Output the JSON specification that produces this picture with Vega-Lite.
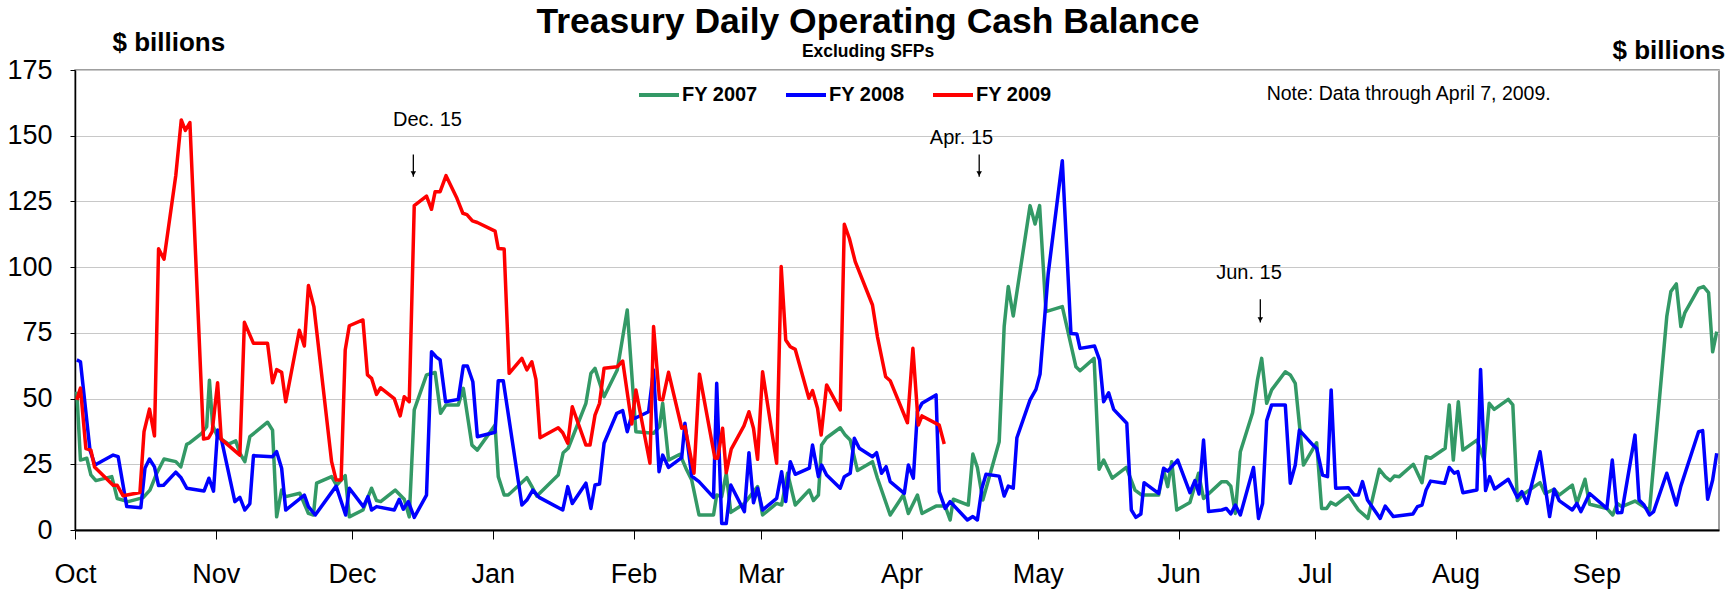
{
"$schema":"https://vega.github.io/schema/vega-lite/v6.json",
"width":1644,"height":460,
"autosize":{"type":"none"},
"padding":{"left":75,"top":70,"right":10,"bottom":61},
"background":"white",
"config":{"view":{"stroke":"#808080","strokeWidth":1.5},"font":"Liberation Sans",
 "axis":{"labelFont":"Liberation Sans","titleFont":"Liberation Sans","labelColor":"#000","domainColor":"#000","tickColor":"#000","titleColor":"#000"}},
"title":{"text":"Treasury Daily Operating Cash Balance","subtitle":"Excluding SFPs","anchor":"middle","frame":"group","dx":-29,"fontSize":35.5,"font":"Liberation Sans","fontWeight":"bold","color":"#000","subtitleFont":"Liberation Sans","subtitleFontSize":17.5,"subtitleFontWeight":"bold","subtitleColor":"#000","subtitlePadding":2,"offset":-31},
"datasets":{
"series":[
{"fy":"FY 2007","day":0.4,"v":52.6},{"fy":"FY 2007","day":1.2,"v":26.6},{"fy":"FY 2007","day":2.6,"v":27.3},{"fy":"FY 2007","day":3.5,"v":21},{"fy":"FY 2007","day":4.6,"v":18.8},{"fy":"FY 2007","day":8.1,"v":20.3},{"fy":"FY 2007","day":9.3,"v":12},{"fy":"FY 2007","day":11.7,"v":10.8},{"fy":"FY 2007","day":15,"v":12.3},{"fy":"FY 2007","day":16.5,"v":15.2},{"fy":"FY 2007","day":18,"v":21.6},{"fy":"FY 2007","day":19.6,"v":27},{"fy":"FY 2007","day":22.2,"v":26},{"fy":"FY 2007","day":23.3,"v":24},{"fy":"FY 2007","day":24.6,"v":32.6},{"fy":"FY 2007","day":25.3,"v":33.2},{"fy":"FY 2007","day":27.9,"v":36.8},{"fy":"FY 2007","day":29,"v":39.3},{"fy":"FY 2007","day":29.6,"v":57},{"fy":"FY 2007","day":30.3,"v":39.9},{"fy":"FY 2007","day":31.4,"v":35.5},{"fy":"FY 2007","day":33.8,"v":32.7},{"fy":"FY 2007","day":35.4,"v":33.9},{"fy":"FY 2007","day":36.3,"v":29.2},{"fy":"FY 2007","day":37.4,"v":26},{"fy":"FY 2007","day":38.5,"v":35.5},{"fy":"FY 2007","day":42.4,"v":41},{"fy":"FY 2007","day":43.5,"v":38},{"fy":"FY 2007","day":44.4,"v":5},{"fy":"FY 2007","day":45.5,"v":15.2},{"fy":"FY 2007","day":46.4,"v":12.7},{"fy":"FY 2007","day":49.5,"v":14},{"fy":"FY 2007","day":51.4,"v":6.3},{"fy":"FY 2007","day":52.5,"v":5.7},{"fy":"FY 2007","day":53.2,"v":17.8},{"fy":"FY 2007","day":56.5,"v":20.3},{"fy":"FY 2007","day":57.6,"v":17},{"fy":"FY 2007","day":59.5,"v":20.7},{"fy":"FY 2007","day":60.4,"v":5},{"fy":"FY 2007","day":63.4,"v":7.6},{"fy":"FY 2007","day":65.3,"v":15.9},{"fy":"FY 2007","day":66.4,"v":11.2},{"fy":"FY 2007","day":67.3,"v":10.8},{"fy":"FY 2007","day":70.5,"v":15.2},{"fy":"FY 2007","day":72.5,"v":11.7},{"fy":"FY 2007","day":73.6,"v":5},{"fy":"FY 2007","day":74.7,"v":45.7},{"fy":"FY 2007","day":77.4,"v":59},{"fy":"FY 2007","day":79.3,"v":59.9},{"fy":"FY 2007","day":80.5,"v":44.4},{"fy":"FY 2007","day":81.7,"v":47.6},{"fy":"FY 2007","day":84.4,"v":47.6},{"fy":"FY 2007","day":85.5,"v":53.9},{"fy":"FY 2007","day":87.4,"v":32.3},{"fy":"FY 2007","day":88.6,"v":30.4},{"fy":"FY 2007","day":92.5,"v":39.9},{"fy":"FY 2007","day":93.2,"v":20.3},{"fy":"FY 2007","day":94.5,"v":13.3},{"fy":"FY 2007","day":95.4,"v":13.3},{"fy":"FY 2007","day":99.5,"v":19.9},{"fy":"FY 2007","day":100.8,"v":15.9},{"fy":"FY 2007","day":101.7,"v":12.9},{"fy":"FY 2007","day":106.4,"v":20.9},{"fy":"FY 2007","day":107.5,"v":29.4},{"fy":"FY 2007","day":108.6,"v":31.1},{"fy":"FY 2007","day":112.5,"v":48.2},{"fy":"FY 2007","day":113.6,"v":59.6},{"fy":"FY 2007","day":114.5,"v":61.5},{"fy":"FY 2007","day":116.5,"v":50.7},{"fy":"FY 2007","day":119.4,"v":60.9},{"fy":"FY 2007","day":121.6,"v":83.7},{"fy":"FY 2007","day":123.5,"v":37.4},{"fy":"FY 2007","day":127.4,"v":36.8},{"fy":"FY 2007","day":128.7,"v":39.3},{"fy":"FY 2007","day":129.4,"v":48.2},{"fy":"FY 2007","day":130.7,"v":26.6},{"fy":"FY 2007","day":133.2,"v":28.8},{"fy":"FY 2007","day":134.7,"v":22.8},{"fy":"FY 2007","day":135.8,"v":19},{"fy":"FY 2007","day":137.4,"v":5.7},{"fy":"FY 2007","day":140.6,"v":5.7},{"fy":"FY 2007","day":141.3,"v":13.3},{"fy":"FY 2007","day":142.4,"v":12.7},{"fy":"FY 2007","day":143.4,"v":21.6},{"fy":"FY 2007","day":144.4,"v":6.7},{"fy":"FY 2007","day":147.4,"v":10.1},{"fy":"FY 2007","day":150.3,"v":16.5},{"fy":"FY 2007","day":151.4,"v":5.7},{"fy":"FY 2007","day":154.5,"v":10.1},{"fy":"FY 2007","day":155.6,"v":9.5},{"fy":"FY 2007","day":156.9,"v":21.6},{"fy":"FY 2007","day":158.6,"v":9.5},{"fy":"FY 2007","day":161.7,"v":15.2},{"fy":"FY 2007","day":162.6,"v":11.2},{"fy":"FY 2007","day":163.7,"v":13.3},{"fy":"FY 2007","day":164.4,"v":32.3},{"fy":"FY 2007","day":165.5,"v":35.1},{"fy":"FY 2007","day":168.5,"v":38.9},{"fy":"FY 2007","day":169.6,"v":36.1},{"fy":"FY 2007","day":170.7,"v":34.2},{"fy":"FY 2007","day":172.3,"v":22.6},{"fy":"FY 2007","day":175.6,"v":26},{"fy":"FY 2007","day":176.7,"v":19.7},{"fy":"FY 2007","day":179.5,"v":5.7},{"fy":"FY 2007","day":182.4,"v":13.3},{"fy":"FY 2007","day":183.5,"v":6.3},{"fy":"FY 2007","day":185.5,"v":13.3},{"fy":"FY 2007","day":186.5,"v":6.3},{"fy":"FY 2007","day":189.6,"v":9.1},{"fy":"FY 2007","day":191.6,"v":9.1},{"fy":"FY 2007","day":192.7,"v":3.8},{"fy":"FY 2007","day":193.4,"v":11.7},{"fy":"FY 2007","day":196.7,"v":9.5},{"fy":"FY 2007","day":197.7,"v":28.9},{"fy":"FY 2007","day":198.7,"v":23.8},{"fy":"FY 2007","day":199.9,"v":11.4},{"fy":"FY 2007","day":203.5,"v":33.6},{"fy":"FY 2007","day":204.6,"v":77.4},{"fy":"FY 2007","day":205.5,"v":92.6},{"fy":"FY 2007","day":206.6,"v":81.4},{"fy":"FY 2007","day":210.3,"v":123.4},{"fy":"FY 2007","day":211.4,"v":116.4},{"fy":"FY 2007","day":212.4,"v":123.4},{"fy":"FY 2007","day":213.8,"v":83.1},{"fy":"FY 2007","day":217.4,"v":85},{"fy":"FY 2007","day":220.4,"v":62.1},{"fy":"FY 2007","day":221.3,"v":60.6},{"fy":"FY 2007","day":224.4,"v":65.3},{"fy":"FY 2007","day":225.5,"v":23.1},{"fy":"FY 2007","day":226.5,"v":26.6},{"fy":"FY 2007","day":228.4,"v":19.7},{"fy":"FY 2007","day":231.5,"v":23.8},{"fy":"FY 2007","day":233.4,"v":15.2},{"fy":"FY 2007","day":234.9,"v":13.3},{"fy":"FY 2007","day":238.6,"v":13.3},{"fy":"FY 2007","day":239.7,"v":22.8},{"fy":"FY 2007","day":240.6,"v":16.5},{"fy":"FY 2007","day":241.5,"v":26},{"fy":"FY 2007","day":242.6,"v":7.6},{"fy":"FY 2007","day":245.5,"v":10.5},{"fy":"FY 2007","day":247.4,"v":21.6},{"fy":"FY 2007","day":248.5,"v":12},{"fy":"FY 2007","day":252.5,"v":18.4},{"fy":"FY 2007","day":253.6,"v":18.4},{"fy":"FY 2007","day":254.5,"v":16.7},{"fy":"FY 2007","day":255.5,"v":6.3},{"fy":"FY 2007","day":256.6,"v":29.8},{"fy":"FY 2007","day":259.3,"v":44.6},{"fy":"FY 2007","day":260.4,"v":57.3},{"fy":"FY 2007","day":261.3,"v":65.3},{"fy":"FY 2007","day":262.4,"v":48.2},{"fy":"FY 2007","day":263.5,"v":53.3},{"fy":"FY 2007","day":266.5,"v":60.2},{"fy":"FY 2007","day":267.6,"v":59},{"fy":"FY 2007","day":268.7,"v":55.8},{"fy":"FY 2007","day":270.5,"v":24.7},{"fy":"FY 2007","day":273.4,"v":33.2},{"fy":"FY 2007","day":274.5,"v":8.2},{"fy":"FY 2007","day":275.6,"v":8.2},{"fy":"FY 2007","day":276.5,"v":10.5},{"fy":"FY 2007","day":277.6,"v":9.5},{"fy":"FY 2007","day":280.4,"v":13.3},{"fy":"FY 2007","day":281.5,"v":10.4},{"fy":"FY 2007","day":282.6,"v":7.6},{"fy":"FY 2007","day":284.7,"v":4.4},{"fy":"FY 2007","day":287.2,"v":23.1},{"fy":"FY 2007","day":288.5,"v":20.3},{"fy":"FY 2007","day":289.6,"v":18.8},{"fy":"FY 2007","day":290.5,"v":20.5},{"fy":"FY 2007","day":291.6,"v":20.3},{"fy":"FY 2007","day":294.7,"v":25},{"fy":"FY 2007","day":296.6,"v":18},{"fy":"FY 2007","day":297.5,"v":27.9},{"fy":"FY 2007","day":298.5,"v":27.3},{"fy":"FY 2007","day":301.7,"v":31.1},{"fy":"FY 2007","day":302.6,"v":47.6},{"fy":"FY 2007","day":303.5,"v":26.6},{"fy":"FY 2007","day":304.6,"v":48.8},{"fy":"FY 2007","day":305.6,"v":30.4},{"fy":"FY 2007","day":308.7,"v":34.2},{"fy":"FY 2007","day":310.3,"v":26.6},{"fy":"FY 2007","day":311.4,"v":48.2},{"fy":"FY 2007","day":312.5,"v":45.9},{"fy":"FY 2007","day":315.6,"v":49.7},{"fy":"FY 2007","day":316.6,"v":47.6},{"fy":"FY 2007","day":317.6,"v":11.2},{"fy":"FY 2007","day":318.7,"v":13.3},{"fy":"FY 2007","day":322.6,"v":18},{"fy":"FY 2007","day":323.7,"v":13.9},{"fy":"FY 2007","day":325.7,"v":15.5},{"fy":"FY 2007","day":326.8,"v":13.3},{"fy":"FY 2007","day":329.7,"v":17.1},{"fy":"FY 2007","day":330.7,"v":10.1},{"fy":"FY 2007","day":332.5,"v":19.3},{"fy":"FY 2007","day":333.5,"v":9.8},{"fy":"FY 2007","day":337.3,"v":8.2},{"fy":"FY 2007","day":338.6,"v":5.7},{"fy":"FY 2007","day":339.6,"v":10.1},{"fy":"FY 2007","day":340.6,"v":8.9},{"fy":"FY 2007","day":343.5,"v":11},{"fy":"FY 2007","day":346.7,"v":7.5},{"fy":"FY 2007","day":350.5,"v":81.2},{"fy":"FY 2007","day":351.4,"v":90.7},{"fy":"FY 2007","day":352.6,"v":93.6},{"fy":"FY 2007","day":353.6,"v":77.4},{"fy":"FY 2007","day":354.5,"v":82.7},{"fy":"FY 2007","day":357.5,"v":91.9},{"fy":"FY 2007","day":358.6,"v":92.6},{"fy":"FY 2007","day":359.7,"v":90.3},{"fy":"FY 2007","day":360.6,"v":67.8},{"fy":"FY 2007","day":361.5,"v":75.5},
{"fy":"FY 2008","day":0.4,"v":64.7},{"fy":"FY 2008","day":1.2,"v":64},{"fy":"FY 2008","day":3.3,"v":30.4},{"fy":"FY 2008","day":4.4,"v":24.7},{"fy":"FY 2008","day":8.4,"v":28.5},{"fy":"FY 2008","day":9.5,"v":27.9},{"fy":"FY 2008","day":11.4,"v":8.9},{"fy":"FY 2008","day":14.5,"v":8.5},{"fy":"FY 2008","day":15.4,"v":23.5},{"fy":"FY 2008","day":16.4,"v":27},{"fy":"FY 2008","day":17.5,"v":24},{"fy":"FY 2008","day":18.4,"v":16.9},{"fy":"FY 2008","day":19.5,"v":17},{"fy":"FY 2008","day":22.2,"v":22},{"fy":"FY 2008","day":23.3,"v":20},{"fy":"FY 2008","day":24.6,"v":15.9},{"fy":"FY 2008","day":28.4,"v":14.8},{"fy":"FY 2008","day":29.5,"v":19.7},{"fy":"FY 2008","day":30.5,"v":14.8},{"fy":"FY 2008","day":31.4,"v":38},{"fy":"FY 2008","day":32.3,"v":34},{"fy":"FY 2008","day":35.2,"v":10.8},{"fy":"FY 2008","day":36.3,"v":12.4},{"fy":"FY 2008","day":37.4,"v":7.6},{"fy":"FY 2008","day":38.5,"v":10},{"fy":"FY 2008","day":39.3,"v":28.3},{"fy":"FY 2008","day":43.5,"v":27.9},{"fy":"FY 2008","day":44.4,"v":29.8},{"fy":"FY 2008","day":45.5,"v":23.5},{"fy":"FY 2008","day":46.4,"v":7.6},{"fy":"FY 2008","day":50.5,"v":13.3},{"fy":"FY 2008","day":51.4,"v":8.9},{"fy":"FY 2008","day":52.9,"v":5.7},{"fy":"FY 2008","day":57.5,"v":16.7},{"fy":"FY 2008","day":59.6,"v":5.7},{"fy":"FY 2008","day":60.4,"v":15.9},{"fy":"FY 2008","day":63.5,"v":8.9},{"fy":"FY 2008","day":64.5,"v":12.7},{"fy":"FY 2008","day":65.3,"v":7.6},{"fy":"FY 2008","day":66.4,"v":8.9},{"fy":"FY 2008","day":70.3,"v":7.6},{"fy":"FY 2008","day":71.4,"v":11.7},{"fy":"FY 2008","day":72.3,"v":7.9},{"fy":"FY 2008","day":73.4,"v":10.8},{"fy":"FY 2008","day":74.7,"v":4.8},{"fy":"FY 2008","day":77.4,"v":13.3},{"fy":"FY 2008","day":78.5,"v":67.8},{"fy":"FY 2008","day":79.5,"v":65.9},{"fy":"FY 2008","day":80.4,"v":64.7},{"fy":"FY 2008","day":81.6,"v":48.8},{"fy":"FY 2008","day":84.4,"v":49.7},{"fy":"FY 2008","day":85.5,"v":62.4},{"fy":"FY 2008","day":86.4,"v":62.4},{"fy":"FY 2008","day":87.6,"v":56.4},{"fy":"FY 2008","day":88.6,"v":35.5},{"fy":"FY 2008","day":92.5,"v":37.2},{"fy":"FY 2008","day":93.2,"v":56.8},{"fy":"FY 2008","day":94.3,"v":56.8},{"fy":"FY 2008","day":98.4,"v":9.5},{"fy":"FY 2008","day":99.5,"v":11.4},{"fy":"FY 2008","day":100.8,"v":15.2},{"fy":"FY 2008","day":102.2,"v":12.4},{"fy":"FY 2008","day":107.4,"v":7.6},{"fy":"FY 2008","day":108.5,"v":16.5},{"fy":"FY 2008","day":109.5,"v":10.1},{"fy":"FY 2008","day":112.5,"v":17.8},{"fy":"FY 2008","day":113.6,"v":8.2},{"fy":"FY 2008","day":114.5,"v":17.1},{"fy":"FY 2008","day":115.5,"v":17.5},{"fy":"FY 2008","day":116.5,"v":33},{"fy":"FY 2008","day":119.3,"v":44.4},{"fy":"FY 2008","day":120.6,"v":45.4},{"fy":"FY 2008","day":121.6,"v":37.4},{"fy":"FY 2008","day":122.6,"v":43.7},{"fy":"FY 2008","day":123.3,"v":42.5},{"fy":"FY 2008","day":126.3,"v":45},{"fy":"FY 2008","day":127.4,"v":60.9},{"fy":"FY 2008","day":128.6,"v":22.2},{"fy":"FY 2008","day":129.4,"v":28.5},{"fy":"FY 2008","day":130.7,"v":23.8},{"fy":"FY 2008","day":133.6,"v":27.5},{"fy":"FY 2008","day":134.3,"v":40.6},{"fy":"FY 2008","day":135.8,"v":20.5},{"fy":"FY 2008","day":137.4,"v":18.4},{"fy":"FY 2008","day":140.6,"v":12.4},{"fy":"FY 2008","day":141.3,"v":55.8},{"fy":"FY 2008","day":142.4,"v":2.5},{"fy":"FY 2008","day":143.4,"v":2.5},{"fy":"FY 2008","day":144.4,"v":17.1},{"fy":"FY 2008","day":147.4,"v":7},{"fy":"FY 2008","day":148.4,"v":29.4},{"fy":"FY 2008","day":149.4,"v":10.4},{"fy":"FY 2008","day":150.3,"v":15.9},{"fy":"FY 2008","day":151.4,"v":7.6},{"fy":"FY 2008","day":154.5,"v":12},{"fy":"FY 2008","day":155.6,"v":22.2},{"fy":"FY 2008","day":156.5,"v":10.8},{"fy":"FY 2008","day":157.5,"v":26},{"fy":"FY 2008","day":158.6,"v":21.2},{"fy":"FY 2008","day":161.7,"v":23.5},{"fy":"FY 2008","day":162.4,"v":32.3},{"fy":"FY 2008","day":163.7,"v":20.3},{"fy":"FY 2008","day":164.4,"v":24.7},{"fy":"FY 2008","day":165.5,"v":20.9},{"fy":"FY 2008","day":168.5,"v":15.9},{"fy":"FY 2008","day":169.4,"v":20.3},{"fy":"FY 2008","day":170.7,"v":21.6},{"fy":"FY 2008","day":171.6,"v":34.9},{"fy":"FY 2008","day":172.7,"v":31.1},{"fy":"FY 2008","day":175.6,"v":27.9},{"fy":"FY 2008","day":176.5,"v":29.4},{"fy":"FY 2008","day":177.6,"v":21.6},{"fy":"FY 2008","day":178.6,"v":24.1},{"fy":"FY 2008","day":179.5,"v":18.4},{"fy":"FY 2008","day":182.6,"v":13.9},{"fy":"FY 2008","day":183.5,"v":24.7},{"fy":"FY 2008","day":184.6,"v":19.7},{"fy":"FY 2008","day":185.5,"v":45},{"fy":"FY 2008","day":186.5,"v":48.2},{"fy":"FY 2008","day":189.6,"v":51.4},{"fy":"FY 2008","day":190.3,"v":14.6},{"fy":"FY 2008","day":191.6,"v":8.2},{"fy":"FY 2008","day":192.7,"v":10.8},{"fy":"FY 2008","day":196.5,"v":3.8},{"fy":"FY 2008","day":197.7,"v":5.1},{"fy":"FY 2008","day":198.7,"v":3.8},{"fy":"FY 2008","day":199.7,"v":15.9},{"fy":"FY 2008","day":200.6,"v":21.2},{"fy":"FY 2008","day":203.5,"v":20.5},{"fy":"FY 2008","day":204.6,"v":12.9},{"fy":"FY 2008","day":205.5,"v":16.7},{"fy":"FY 2008","day":206.6,"v":15.9},{"fy":"FY 2008","day":207.4,"v":35.1},{"fy":"FY 2008","day":210.3,"v":49.5},{"fy":"FY 2008","day":211.6,"v":53.5},{"fy":"FY 2008","day":212.5,"v":59.3},{"fy":"FY 2008","day":214.3,"v":97.6},{"fy":"FY 2008","day":217.4,"v":140.5},{"fy":"FY 2008","day":219.3,"v":74.8},{"fy":"FY 2008","day":220.6,"v":74.6},{"fy":"FY 2008","day":221.3,"v":69.1},{"fy":"FY 2008","day":224.5,"v":70},{"fy":"FY 2008","day":225.6,"v":64.7},{"fy":"FY 2008","day":226.5,"v":48.8},{"fy":"FY 2008","day":227.6,"v":52.2},{"fy":"FY 2008","day":228.7,"v":45.9},{"fy":"FY 2008","day":231.6,"v":40.6},{"fy":"FY 2008","day":232.6,"v":7.6},{"fy":"FY 2008","day":233.6,"v":4.8},{"fy":"FY 2008","day":234.7,"v":6.1},{"fy":"FY 2008","day":235.4,"v":18},{"fy":"FY 2008","day":238.6,"v":13.9},{"fy":"FY 2008","day":239.7,"v":23.5},{"fy":"FY 2008","day":240.6,"v":22.4},{"fy":"FY 2008","day":242.8,"v":26.6},{"fy":"FY 2008","day":245.5,"v":14.2},{"fy":"FY 2008","day":246.6,"v":18.8},{"fy":"FY 2008","day":247.5,"v":13.7},{"fy":"FY 2008","day":248.5,"v":34.2},{"fy":"FY 2008","day":249.6,"v":7},{"fy":"FY 2008","day":252.5,"v":7.6},{"fy":"FY 2008","day":253.5,"v":8.2},{"fy":"FY 2008","day":254.5,"v":6.1},{"fy":"FY 2008","day":255.5,"v":9.5},{"fy":"FY 2008","day":256.6,"v":5.7},{"fy":"FY 2008","day":259.5,"v":23.8},{"fy":"FY 2008","day":260.6,"v":4.4},{"fy":"FY 2008","day":261.5,"v":10.1},{"fy":"FY 2008","day":262.4,"v":41.6},{"fy":"FY 2008","day":263.5,"v":47.6},{"fy":"FY 2008","day":266.5,"v":47.6},{"fy":"FY 2008","day":267.6,"v":17.8},{"fy":"FY 2008","day":268.7,"v":24.7},{"fy":"FY 2008","day":269.6,"v":38},{"fy":"FY 2008","day":272.6,"v":32.3},{"fy":"FY 2008","day":273.4,"v":31.1},{"fy":"FY 2008","day":274.7,"v":20.9},{"fy":"FY 2008","day":275.8,"v":20.3},{"fy":"FY 2008","day":276.6,"v":53.3},{"fy":"FY 2008","day":277.6,"v":15.9},{"fy":"FY 2008","day":280.4,"v":16.1},{"fy":"FY 2008","day":281.7,"v":13.3},{"fy":"FY 2008","day":282.6,"v":13.3},{"fy":"FY 2008","day":283.5,"v":18.4},{"fy":"FY 2008","day":284.6,"v":11.4},{"fy":"FY 2008","day":287.4,"v":4.4},{"fy":"FY 2008","day":288.5,"v":9.1},{"fy":"FY 2008","day":290.3,"v":5.1},{"fy":"FY 2008","day":294.6,"v":6.1},{"fy":"FY 2008","day":295.6,"v":8.9},{"fy":"FY 2008","day":296.6,"v":9.5},{"fy":"FY 2008","day":297.5,"v":15.2},{"fy":"FY 2008","day":298.5,"v":18.6},{"fy":"FY 2008","day":301.6,"v":17.8},{"fy":"FY 2008","day":302.6,"v":23.8},{"fy":"FY 2008","day":303.7,"v":21.6},{"fy":"FY 2008","day":304.5,"v":22.2},{"fy":"FY 2008","day":305.6,"v":14.2},{"fy":"FY 2008","day":308.7,"v":15.2},{"fy":"FY 2008","day":309.5,"v":61.1},{"fy":"FY 2008","day":310.6,"v":15},{"fy":"FY 2008","day":311.5,"v":20.3},{"fy":"FY 2008","day":312.6,"v":15.6},{"fy":"FY 2008","day":315.6,"v":19.3},{"fy":"FY 2008","day":316.6,"v":15.9},{"fy":"FY 2008","day":317.6,"v":12.4},{"fy":"FY 2008","day":318.6,"v":14.6},{"fy":"FY 2008","day":319.7,"v":10.1},{"fy":"FY 2008","day":322.6,"v":29.8},{"fy":"FY 2008","day":324.7,"v":5.1},{"fy":"FY 2008","day":325.7,"v":15.5},{"fy":"FY 2008","day":326.8,"v":11.2},{"fy":"FY 2008","day":329.7,"v":7.6},{"fy":"FY 2008","day":330.7,"v":10.1},{"fy":"FY 2008","day":331.6,"v":7},{"fy":"FY 2008","day":333.5,"v":13.9},{"fy":"FY 2008","day":337.3,"v":8.2},{"fy":"FY 2008","day":338.5,"v":26.6},{"fy":"FY 2008","day":339.6,"v":6.6},{"fy":"FY 2008","day":340.6,"v":6.7},{"fy":"FY 2008","day":343.5,"v":36.1},{"fy":"FY 2008","day":344.4,"v":11.4},{"fy":"FY 2008","day":345.5,"v":9.5},{"fy":"FY 2008","day":346.7,"v":5.7},{"fy":"FY 2008","day":347.6,"v":7},{"fy":"FY 2008","day":350.5,"v":21.6},{"fy":"FY 2008","day":352.6,"v":9.5},{"fy":"FY 2008","day":353.6,"v":16.7},{"fy":"FY 2008","day":357.5,"v":37.4},{"fy":"FY 2008","day":358.4,"v":37.8},{"fy":"FY 2008","day":359.5,"v":11.7},{"fy":"FY 2008","day":360.6,"v":19},{"fy":"FY 2008","day":361.5,"v":29.2},
{"fy":"FY 2009","day":0.4,"v":49.5},{"fy":"FY 2009","day":1.2,"v":54},{"fy":"FY 2009","day":2.4,"v":31},{"fy":"FY 2009","day":3.5,"v":30.4},{"fy":"FY 2009","day":4.3,"v":24},{"fy":"FY 2009","day":8.4,"v":17},{"fy":"FY 2009","day":9.3,"v":17},{"fy":"FY 2009","day":10.6,"v":13},{"fy":"FY 2009","day":14.3,"v":14.3},{"fy":"FY 2009","day":15.2,"v":37.4},{"fy":"FY 2009","day":16.4,"v":46},{"fy":"FY 2009","day":17.5,"v":35.8},{"fy":"FY 2009","day":18.4,"v":107},{"fy":"FY 2009","day":19.6,"v":103},{"fy":"FY 2009","day":22.2,"v":135},{"fy":"FY 2009","day":23.4,"v":156},{"fy":"FY 2009","day":24.3,"v":152},{"fy":"FY 2009","day":25.3,"v":155},{"fy":"FY 2009","day":28.3,"v":34.6},{"fy":"FY 2009","day":29.4,"v":35},{"fy":"FY 2009","day":30.2,"v":37.4},{"fy":"FY 2009","day":31.4,"v":56},{"fy":"FY 2009","day":32.2,"v":34.6},{"fy":"FY 2009","day":36.3,"v":28.5},{"fy":"FY 2009","day":37.3,"v":79},{"fy":"FY 2009","day":39.3,"v":71},{"fy":"FY 2009","day":42.4,"v":71},{"fy":"FY 2009","day":43.5,"v":56},{"fy":"FY 2009","day":44.4,"v":61},{"fy":"FY 2009","day":45.5,"v":60},{"fy":"FY 2009","day":46.4,"v":48.8},{"fy":"FY 2009","day":49.4,"v":76},{"fy":"FY 2009","day":50.5,"v":70},{"fy":"FY 2009","day":51.4,"v":93},{"fy":"FY 2009","day":52.6,"v":85},{"fy":"FY 2009","day":56.5,"v":26},{"fy":"FY 2009","day":57.5,"v":19},{"fy":"FY 2009","day":58.6,"v":19},{"fy":"FY 2009","day":59.5,"v":68.5},{"fy":"FY 2009","day":60.4,"v":77.7},{"fy":"FY 2009","day":63.4,"v":79.9},{"fy":"FY 2009","day":64.4,"v":59},{"fy":"FY 2009","day":65.3,"v":57.7},{"fy":"FY 2009","day":66.4,"v":51.6},{"fy":"FY 2009","day":67.3,"v":54.1},{"fy":"FY 2009","day":70.3,"v":50},{"fy":"FY 2009","day":71.6,"v":43.4},{"fy":"FY 2009","day":72.5,"v":50.7},{"fy":"FY 2009","day":73.6,"v":48.8},{"fy":"FY 2009","day":74.7,"v":123.4},{"fy":"FY 2009","day":77.4,"v":127},{"fy":"FY 2009","day":78.5,"v":122},{"fy":"FY 2009","day":79.3,"v":128.7},{"fy":"FY 2009","day":80.4,"v":128.7},{"fy":"FY 2009","day":81.7,"v":134.8},{"fy":"FY 2009","day":84.1,"v":126.2},{"fy":"FY 2009","day":85.4,"v":120.5},{"fy":"FY 2009","day":86.3,"v":120},{"fy":"FY 2009","day":87.5,"v":117.6},{"fy":"FY 2009","day":88.6,"v":117},{"fy":"FY 2009","day":92.5,"v":113.7},{"fy":"FY 2009","day":93.2,"v":107.1},{"fy":"FY 2009","day":94.5,"v":106.9},{"fy":"FY 2009","day":95.6,"v":59.6},{"fy":"FY 2009","day":98.4,"v":65.3},{"fy":"FY 2009","day":99.5,"v":60.9},{"fy":"FY 2009","day":100.6,"v":64},{"fy":"FY 2009","day":101.5,"v":57.3},{"fy":"FY 2009","day":102.4,"v":35.1},{"fy":"FY 2009","day":106.4,"v":38.9},{"fy":"FY 2009","day":107.4,"v":37},{"fy":"FY 2009","day":108.5,"v":33},{"fy":"FY 2009","day":109.5,"v":46.9},{"fy":"FY 2009","day":112.5,"v":32.3},{"fy":"FY 2009","day":113.4,"v":32.3},{"fy":"FY 2009","day":114.5,"v":43.7},{"fy":"FY 2009","day":115.5,"v":48.2},{"fy":"FY 2009","day":116.5,"v":61.5},{"fy":"FY 2009","day":119.4,"v":62.1},{"fy":"FY 2009","day":120.6,"v":64.3},{"fy":"FY 2009","day":122.6,"v":40.3},{"fy":"FY 2009","day":123.5,"v":53.3},{"fy":"FY 2009","day":126.6,"v":25.4},{"fy":"FY 2009","day":127.4,"v":77.4},{"fy":"FY 2009","day":128.7,"v":49.7},{"fy":"FY 2009","day":129.4,"v":49.5},{"fy":"FY 2009","day":130.7,"v":60},{"fy":"FY 2009","day":133.6,"v":38.7},{"fy":"FY 2009","day":134.3,"v":39.3},{"fy":"FY 2009","day":136.3,"v":21.6},{"fy":"FY 2009","day":137.5,"v":59.3},{"fy":"FY 2009","day":140.9,"v":27.3},{"fy":"FY 2009","day":141.5,"v":27.3},{"fy":"FY 2009","day":142.6,"v":38.7},{"fy":"FY 2009","day":143.4,"v":21.8},{"fy":"FY 2009","day":144.5,"v":30.8},{"fy":"FY 2009","day":147.3,"v":39.6},{"fy":"FY 2009","day":148.4,"v":45},{"fy":"FY 2009","day":149.4,"v":38.7},{"fy":"FY 2009","day":150.3,"v":26.9},{"fy":"FY 2009","day":151.4,"v":60.2},{"fy":"FY 2009","day":154.5,"v":25.4},{"fy":"FY 2009","day":155.5,"v":100.2},{"fy":"FY 2009","day":156.5,"v":72.3},{"fy":"FY 2009","day":157.5,"v":69.7},{"fy":"FY 2009","day":158.6,"v":68.7},{"fy":"FY 2009","day":161.6,"v":50.1},{"fy":"FY 2009","day":162.4,"v":53},{"fy":"FY 2009","day":163.5,"v":46.3},{"fy":"FY 2009","day":164.3,"v":36.1},{"fy":"FY 2009","day":165.5,"v":55.2},{"fy":"FY 2009","day":168.5,"v":45.7},{"fy":"FY 2009","day":169.4,"v":116.3},{"fy":"FY 2009","day":170.5,"v":111},{"fy":"FY 2009","day":171.8,"v":102.1},{"fy":"FY 2009","day":175.6,"v":85.6},{"fy":"FY 2009","day":176.7,"v":73.5},{"fy":"FY 2009","day":178.5,"v":58.3},{"fy":"FY 2009","day":179.5,"v":56.8},{"fy":"FY 2009","day":183.3,"v":40.8},{"fy":"FY 2009","day":184.5,"v":69.1},{"fy":"FY 2009","day":185.7,"v":39.9},{"fy":"FY 2009","day":186.5,"v":43.4},{"fy":"FY 2009","day":190.3,"v":39.9},{"fy":"FY 2009","day":191.4,"v":32.7}
],
"labels":[{"day":77.6,"v":156,"t":"Dec. 15"},{"day":195.2,"v":149.3,"t":"Apr. 15"},{"day":258.5,"v":97.7,"t":"Jun. 15"}],
"arrows":[{"day":74.5,"top":142.9,"tip":134.4},{"day":199.1,"top":142.9,"tip":134.4},{"day":261,"top":87.8,"tip":78.9}],
"note":[{"day":262.4,"v":166,"t":"Note: Data through April 7, 2009."}]
},
"layer":[
{"data":{"name":"series"},
 "mark":{"type":"line","strokeWidth":3.5,"strokeJoin":"round","interpolate":"linear"},
 "encoding":{
  "x":{"field":"day","type":"quantitative","scale":{"domain":[0,362],"nice":false,"zero":false},
   "axis":{"title":null,"values":[0,31,61,92,123,151,182,212,243,273,304,335],
    "labelExpr":"['Oct','Nov','Dec','Jan','Feb','Mar','Apr','May','Jun','Jul','Aug','Sep'][indexof([0,31,61,92,123,151,182,212,243,273,304,335], datum.value)]",
    "labelFontSize":27,"tickSize":9,"labelPadding":22,"domainWidth":2,"tickWidth":1,"grid":false,"labelFlush":false,"labelOverlap":false}},
  "y":{"field":"v","type":"quantitative","scale":{"domain":[0,175],"nice":false},
   "axis":{"orient":"left","values":[0,25,50,75,100,125,150,175],"labelFontSize":27,"tickSize":5,"labelPadding":18,"domainWidth":1.5,"grid":true,"gridColor":"#c8c8c8","gridWidth":1,
    "title":"$ billions","titleAngle":0,"titleAlign":"left","titleBaseline":"alphabetic","titleX":37,"titleY":-20,"titleFontSize":26,"titleFontWeight":"bold"}},
  "color":{"field":"fy","type":"nominal","scale":{"domain":["FY 2007","FY 2008","FY 2009"],"range":["#339966","#0000FF","#FF0000"]},
   "legend":{"title":null,"orient":"none","legendX":562,"legendY":3,"direction":"horizontal","columns":3,"columnPadding":20,"symbolType":"stroke","symbolSize":1600,"symbolStrokeWidth":4,"labelFontSize":20,"labelFontWeight":"bold","labelFont":"Liberation Sans","labelColor":"#000","labelOffset":1,"padding":0}}
 }},
{"data":{"name":"labels"},
 "mark":{"type":"text","fontSize":20,"font":"Liberation Sans","color":"#000","align":"center","baseline":"middle"},
 "encoding":{"x":{"field":"day","type":"quantitative","axis":null},"y":{"field":"v","type":"quantitative","axis":null},"text":{"field":"t"}}},
{"data":{"name":"arrows"},
 "mark":{"type":"rule","color":"#000","strokeWidth":1.3},
 "encoding":{"x":{"field":"day","type":"quantitative","axis":null},"y":{"field":"top","type":"quantitative","axis":null},"y2":{"field":"tip"}}},
{"data":{"name":"arrows"},
 "mark":{"type":"point","shape":"triangle-down","filled":true,"color":"#000","size":30,"opacity":1,"yOffset":-3},
 "encoding":{"x":{"field":"day","type":"quantitative","axis":null},"y":{"field":"tip","type":"quantitative","axis":null}}},
{"data":{"name":"note"},
 "mark":{"type":"text","fontSize":19.5,"font":"Liberation Sans","color":"#000","align":"left","baseline":"middle"},
 "encoding":{"x":{"field":"day","type":"quantitative","axis":null},
  "y":{"field":"v","type":"quantitative","axis":{"orient":"right","labels":false,"ticks":false,"domain":false,"grid":false,"title":"$ billions","titleAngle":0,"titleAlign":"left","titleBaseline":"alphabetic","titleX":-107,"titleY":-12,"titleFontSize":26,"titleFontWeight":"bold"}},
  "text":{"field":"t"}}}
],
"resolve":{"axis":{"x":"independent","y":"independent"}}
}
